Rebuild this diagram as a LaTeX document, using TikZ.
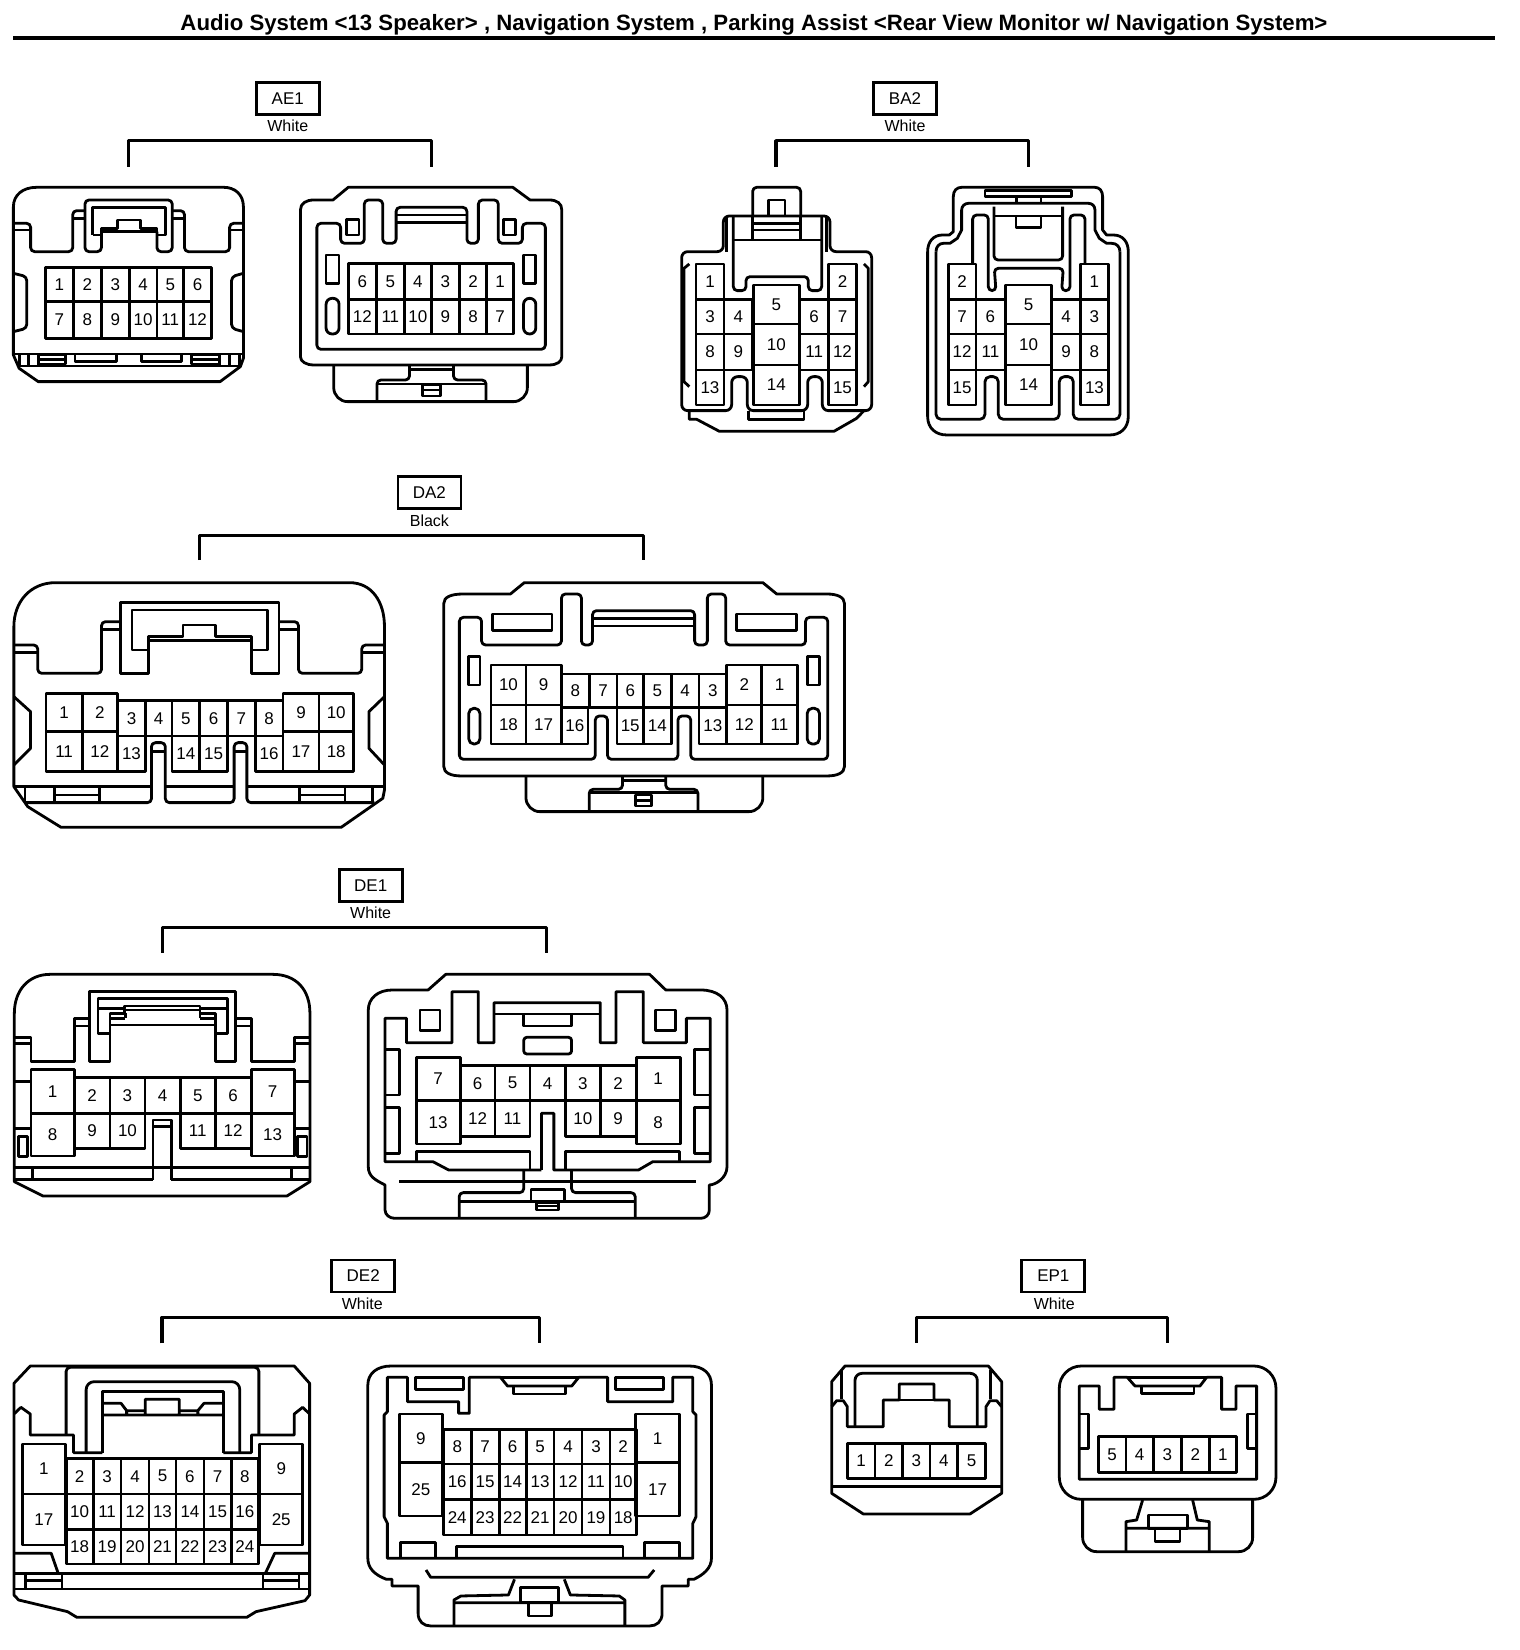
\documentclass[tikz,border=0pt]{standalone}
\usepackage{fontspec}
\setmainfont{Liberation Sans}
\newcount\pinc
\newcommand{\pin}[5]{%
  \global\advance\pinc by 1
  \draw[ln] (#1,#2) rectangle (#3,#4);
  \node[num] (pin\the\pinc) at ({(#1+#3)/2},{(#2+#4)/2}) {#5};}
\newcommand{\pinrow}[3]{\foreach \a/\b/\t in {#3}{\pin{\a}{#1}{\b}{#2}{\t}}}
\tikzset{
  ln/.style={draw=black,line width=2.8pt,line join=round},
  rc/.style={rounded corners=4pt},
  rcb/.style={rounded corners=14pt},
  num/.style={font=\fontsize{17}{17}\selectfont,inner sep=0pt},
  tagbox/.style={draw=black,line width=2.8pt,fill=white,font=\fontsize{17}{17}\selectfont,inner sep=0pt},
  colr/.style={font=\fontsize{16}{16}\selectfont,inner sep=0pt},
  brk/.style={draw=black,line width=3.2pt,line join=round}
}
\begin{document}
\begin{tikzpicture}[x=1pt,y=-1pt]
\useasboundingbox[fill=white] (0,0) rectangle (1520,1650);
\node[font=\bfseries\fontsize{22.2}{23}\selectfont,inner sep=0pt] (title) at (754,24.5) {Audio System <13 Speaker> , Navigation System , Parking Assist <Rear View Monitor w/ Navigation System>};
\coordinate (ruleL) at (13,38); \coordinate (ruleR) at (1495,38);
\draw[line width=4pt] (ruleL) -- (ruleR);

%% ===== AE1 =====
\begin{scope}[shift={(0,60)},xscale=0.3827,yscale=0.3333]
\node[tagbox,minimum width=63pt,minimum height=32pt] (tagAE) at (752,115) {AE1};
\node[colr] (colAE) at (752,198) {White};
\draw[brk] (335,320) -- (335,242) -- (1128,242) -- (1128,320);
% left
\draw[ln] (35,885) -- (35,440) .. controls (35,405) and (60,382) .. (95,382) -- (585,382) .. controls (615,382) and (636,405) .. (636,440) -- (636,895) -- (628,920) -- (575,965) -- (100,965) -- (50,925) -- cycle;
\draw[ln] (35,882) -- (636,882) (50,918) -- (628,918);
\draw[ln] (50,882)--(50,918) (75,882)--(75,918) (100,882)--(100,918) (575,882)--(575,918) (600,882)--(600,918) (625,882)--(625,918);
\draw[ln] (100,885) rectangle (172,912) (100,898)--(172,898) (500,885) rectangle (572,912) (500,898)--(572,898);
\draw[ln] (196,882)--(196,905)--(304,905)--(304,882) (370,882)--(370,905)--(475,905)--(475,882);
\draw[ln,rc] (35,490)--(80,490)--(80,575)--(190,575)--(190,452)--(222,452);
\draw[ln] (35,510)--(80,510) (190,475)--(222,475) (450,475)--(482,475) (600,510)--(636,510);
\draw[ln,rc] (265,515)--(265,575)--(222,575)--(222,420)--(450,420)--(450,575)--(410,575)--(410,515);
\draw[ln] (242,525)--(242,442)--(432,442)--(432,525)--(410,525) (242,525)--(265,525);
\draw[ln] (265,525)--(265,505)--(308,505)--(308,480)--(368,480)--(368,505)--(410,505)--(410,525) (265,515)--(410,515);
\draw[ln,rc] (450,452)--(482,452)--(482,575)--(600,575)--(600,490)--(636,490);
\draw[ln,rc] (35,640)--(70,650)--(70,805)--(35,815) (636,640)--(605,650)--(605,805)--(636,815);
\pinrow{622}{725}{118/192/1,192/265/2,265/338/3,338/410/4,410/480/5,480/552/6}
\pinrow{725}{835}{118/192/7,192/265/8,265/338/9,338/410/10,410/480/11,480/552/12}
% right
\draw[ln] (785,890) -- (785,450) .. controls (785,430) and (800,420) .. (820,420) -- (870,420) -- (910,382) -- (1340,382) -- (1385,420) -- (1435,420) .. controls (1455,420) and (1468,430) .. (1468,450) -- (1468,890) .. controls (1468,905) and (1455,915) .. (1435,915) -- (820,915) .. controls (800,915) and (785,905) .. (785,890) -- cycle;
\draw[ln,rc] (828,868)--(828,490)--(890,490)--(890,550)--(952,550)--(952,420)--(1000,420)--(1000,550)--(1035,550)--(1035,442)--(1220,442)--(1220,550)--(1250,550)--(1250,420)--(1302,420)--(1302,550)--(1365,550)--(1365,490)--(1425,490)--(1425,868)--cycle;
\draw[ln] (1035,465)--(1220,465) (1035,488)--(1220,488);
\draw[ln] (905,478) rectangle (938,525) (1315,478) rectangle (1348,525) (852,585) rectangle (886,670) (1368,585) rectangle (1400,670);
\draw[ln,rounded corners=6pt] (852,715) rectangle (886,822) (1368,715) rectangle (1400,822);
\pinrow{610}{718}{910/984/6,984/1056/5,1056/1128/4,1128/1200/3,1200/1272/2,1272/1342/1}
\pinrow{718}{822}{910/984/12,984/1056/11,1056/1128/10,1128/1200/9,1200/1272/8,1272/1342/7}
\draw[ln,rcb] (872,918)--(872,1025)--(1378,1025)--(1378,918);
\draw[ln,rc] (1070,918)--(1070,960)--(985,960)--(985,1025);
\draw[ln,rc] (1185,918)--(1185,960)--(1270,960)--(1270,1025);
\draw[ln] (1070,928)--(1185,928) (985,972)--(1270,972) (1105,975) rectangle (1150,1008) (1105,990)--(1150,990);
\end{scope}

%% ===== BA2 =====
\begin{scope}[shift={(660,60)},xscale=0.3333,yscale=0.3333]
\node[tagbox,minimum width=63pt,minimum height=32pt] (tagBA) at (735,115) {BA2};
\node[colr] (colBA) at (735,198) {White};
\draw[brk] (348,320) -- (348,242) -- (1105,242) -- (1105,320);
% left
\draw[ln,rc] (278,468)--(278,382)--(422,382)--(422,468);
\draw[ln] (325,465)--(325,420)--(375,420)--(375,465);
\draw[ln,rounded corners=6pt] (190,468)--(190,575)--(65,575)--(65,1052)--(215,1052)--(215,950)--(262,950)--(262,1052)--(443,1052)--(443,950)--(487,950)--(487,1052)--(635,1052)--(635,575)--(510,575)--(510,468)--cycle;
\draw[ln] (88,1052)--(88,1078)--(110,1078)--(178,1114)--(522,1114)--(590,1075)--(612,1052);
\draw[ln] (265,1052)--(265,1078)--(432,1078)--(432,1052);
\draw[ln,rc] (220,468)--(220,692)--(258,692)--(258,650)--(445,650)--(445,692)--(485,692)--(485,468);
\draw[ln] (220,540)--(485,540) (278,490)--(422,490) (278,510)--(422,510) (278,468)--(278,540) (422,468)--(422,540);
\draw[ln] (200,470)--(200,575) (500,470)--(500,575);
\draw[ln] (88,612)--(72,625)--(72,965)--(88,980) (612,612)--(625,625)--(625,965)--(612,980);
\pinrow{612}{718}{108/192/1,505/590/2}
\pinrow{718}{822}{108/192/3,192/278/4,420/505/6,505/590/7}
\pinrow{822}{930}{108/192/8,192/278/9,420/505/11,505/590/12}
\pinrow{930}{1035}{108/192/13,505/590/15}
\pinrow{675}{792}{280/418/5}
\pinrow{792}{915}{280/418/10}
\pinrow{915}{1035}{280/418/14}
% right
\draw[ln] (880,515) -- (880,410) .. controls (880,392) and (890,382) .. (905,382) -- (1305,382) .. controls (1318,382) and (1328,392) .. (1328,410) -- (1328,510) -- (1340,525) -- (1360,525) .. controls (1388,525) and (1405,545) .. (1405,575) -- (1405,1070) .. controls (1405,1105) and (1380,1125) .. (1350,1125) -- (860,1125) .. controls (828,1125) and (803,1105) .. (803,1070) -- (803,575) .. controls (803,545) and (820,525) .. (848,525) -- (868,525) -- cycle;
\draw[ln] (828,575) .. controls (828,560) and (838,550) .. (850,550) -- (870,550) -- (892,535) -- (905,510) -- (905,450) .. controls (905,438) and (915,430) .. (925,430) -- (1285,430) .. controls (1297,430) and (1305,438) .. (1305,450) -- (1305,510) -- (1318,535) -- (1340,550) -- (1355,550) .. controls (1370,550) and (1380,560) .. (1380,575);
\draw[ln,rounded corners=5pt] (1380,575)--(1380,1078)--(1240,1078)--(1240,950)--(1198,950)--(1198,1078)--(1015,1078)--(1015,950)--(975,950)--(975,1078)--(828,1078)--(828,575);
\draw[ln] (975,392) rectangle (1235,410) (1070,410)--(1070,430) (1143,410)--(1143,430);
\draw[ln,rc] (1002,440)--(1002,600)--(1208,600)--(1208,440);
\draw[ln] (1002,468)--(1208,468) (1068,468)--(1068,502)--(1143,502)--(1143,468);
\draw[ln,rc] (938,612)--(938,465)--(985,465)--(985,692)--(1008,692)--(1003,625)--(1210,625)--(1205,692)--(1230,692)--(1230,465)--(1275,465)--(1275,612);
\pinrow{612}{718}{865/948/2,1262/1345/1}
\pinrow{718}{822}{865/948/7,948/1035/6,1175/1262/4,1262/1345/3}
\pinrow{822}{930}{865/948/12,948/1035/11,1175/1262/9,1262/1345/8}
\pinrow{930}{1035}{865/948/15,1262/1345/13}
\pinrow{675}{792}{1037/1175/5}
\pinrow{792}{915}{1037/1175/10}
\pinrow{915}{1035}{1037/1175/14}
\end{scope}

%% ===== DA2 =====
\begin{scope}[shift={(0,470)},xscale=0.5548,yscale=0.3333]
\node[tagbox,minimum width=63pt,minimum height=32pt] (tagDA) at (774,68) {DA2};
\node[colr] (colDA) at (774,152) {Black};
\draw[brk] (360,270) -- (360,197) -- (1160,197) -- (1160,270);
% left
\draw[ln] (25,950)--(25,470) .. controls (25,395) and (55,338) .. (100,338) -- (630,338) .. controls (670,338) and (693,395) .. (693,470) -- (693,960) -- (690,985) -- (615,1072) -- (110,1072) -- (50,1010) -- cycle;
\draw[ln] (25,950)--(273,950) (298,950)--(422,950) (445,950)--(693,950);
\draw[ln,rc] (45,998)--(273,998)--(273,818)--(298,818)--(298,998)--(422,998)--(422,818)--(445,818)--(445,998)--(675,998);
\draw[ln] (273,845)--(298,845) (422,845)--(445,845);
\draw[ln] (98,950)--(98,998) (180,950)--(180,998) (98,975)--(180,975) (540,950)--(540,998) (622,950)--(622,998) (540,975)--(622,975) (45,950)--(45,998) (672,950)--(672,998);
\draw[ln,rc] (25,525)--(68,525)--(68,610)--(183,610)--(183,455)--(217,455);
\draw[ln] (25,548)--(68,548) (183,478)--(217,478) (503,478)--(538,478) (652,548)--(693,548);
\draw[ln] (217,398)--(503,398)--(503,610)--(453,610)--(453,500)--(388,500)--(388,465)--(330,465)--(330,500)--(268,500)--(268,610)--(217,610)--cycle;
\draw[ln] (453,540)--(482,540)--(482,420)--(238,420)--(238,540)--(268,540) (268,512)--(453,512);
\draw[ln,rc] (503,455)--(538,455)--(538,610)--(652,610)--(652,525)--(693,525);
\draw[ln] (25,680)--(55,725)--(55,835)--(25,885) (693,680)--(665,725)--(665,835)--(693,885);
\pinrow{670}{785}{83/148/1,148/212/2,510/575/9,575/637/10}
\pinrow{785}{905}{83/148/11,148/212/12,510/575/17,575/637/18}
\pinrow{692}{798}{212/262/3,262/310/4,310/360/5,360/410/6,410/460/7,460/510/8}
\pinrow{798}{905}{212/262/13,310/360/14,360/410/15,460/510/16}
% right
\draw[ln] (800,890)--(800,400) .. controls (800,382) and (812,372) .. (835,372) -- (920,372) -- (945,338) -- (1375,338) -- (1400,372) -- (1490,372) .. controls (1510,372) and (1522,382) .. (1522,400) -- (1522,890) .. controls (1522,908) and (1510,918) .. (1490,918) -- (832,918) .. controls (812,918) and (800,908) .. (800,890) -- cycle;
\draw[ln,rc] (828,868)--(828,442)--(868,442)--(868,525)--(1012,525)--(1012,372)--(1048,372)--(1048,525)--(1068,525)--(1068,422)--(1252,422)--(1252,525)--(1275,525)--(1275,372)--(1308,372)--(1308,525)--(1452,525)--(1452,442)--(1492,442)--(1492,868)--(1245,868)--(1245,738)--(1222,738)--(1222,868)--(1095,868)--(1095,738)--(1073,738)--(1073,868)--cycle;
\draw[ln] (1068,445)--(1252,445) (1068,468)--(1252,468);
\draw[ln] (887,432) rectangle (995,482) (1327,432) rectangle (1435,482) (845,560) rectangle (865,645) (1455,560) rectangle (1477,645);
\draw[ln,rounded corners=5pt] (845,715) rectangle (865,822) (1455,715) rectangle (1477,822);
\pinrow{585}{705}{885/948/10,948/1012/9,1310/1373/2,1373/1437/1}
\pinrow{705}{822}{885/948/18,948/1012/17,1310/1373/12,1373/1437/11}
\pinrow{612}{712}{1012/1062/8,1062/1112/7,1112/1160/6,1160/1210/5,1210/1260/4,1260/1310/3}
\pinrow{712}{822}{1012/1060/16,1112/1160/15,1160/1210/14,1260/1310/13}
\draw[ln,rcb] (948,920)--(948,1025)--(1375,1025)--(1375,920);
\draw[ln,rc] (1122,920)--(1122,958)--(1062,958)--(1062,1025);
\draw[ln,rc] (1200,920)--(1200,958)--(1258,958)--(1258,1025);
\draw[ln] (1122,932)--(1200,932) (1062,968)--(1258,968) (1145,975) rectangle (1175,1008) (1145,992)--(1175,992);
\end{scope}

%% ===== DE1 =====
\begin{scope}[shift={(0,870)},xscale=0.4783,yscale=0.3333]
\node[tagbox,minimum width=63pt,minimum height=32pt] (tagDEa) at (775,47) {DE1};
\node[colr] (colDEa) at (775,128) {White};
\draw[brk] (340,248) -- (340,172) -- (1143,172) -- (1143,248);
% left
\draw[ln] (30,935)--(30,430) .. controls (30,360) and (60,313) .. (105,313) -- (570,313) .. controls (620,313) and (648,360) .. (648,430) -- (648,935) -- (600,978) -- (90,978) -- cycle;
\draw[ln] (30,892)--(648,892) (30,928)--(320,928) (358,928)--(648,928) (68,892)--(68,928) (610,892)--(610,928);
\draw[ln] (320,930)--(320,750)--(358,750)--(358,930) (320,770)--(358,770);
\draw[ln] (187,365)--(492,365)--(492,575)--(450,575)--(450,490)--(475,490)--(475,385)--(205,385)--(205,490)--(230,490)--(230,575)--(187,575)--cycle;
\draw[ln] (205,415)--(260,415)--(260,408)--(418,408)--(418,415)--(475,415) (230,490)--(230,430)--(260,430)--(260,420)--(418,420)--(418,430)--(450,430)--(450,490) (230,445)--(262,445) (418,445)--(450,445) (262,445)--(262,430) (418,445)--(418,430) (230,465)--(450,465);
\draw[ln] (30,502)--(65,502)--(65,575)--(155,575)--(155,445)--(187,445) (155,468)--(187,468) (30,520)--(65,520);
\draw[ln] (492,445)--(525,445)--(525,575)--(615,575)--(615,502)--(648,502) (615,520)--(648,520) (492,468)--(525,468);
\draw[ln] (30,635)--(65,635) (30,775)--(65,775) (615,635)--(648,635) (615,775)--(648,775) (38,800) rectangle (58,860) (622,800) rectangle (642,860);
\pinrow{598}{730}{65/155/1,525/615/7}
\pinrow{730}{858}{65/155/8,525/615/13}
\pinrow{622}{730}{155/230/2,230/303/3,303/377/4,377/450/5,450/525/6}
\pinrow{730}{835}{155/230/9,230/303/10,377/450/11,450/525/12}
% right
\draw[ln] (805,945) .. controls (785,930) and (770,920) .. (770,890) -- (770,420) .. controls (770,385) and (790,360) .. (820,360) -- (895,360) -- (932,313) -- (1358,313) -- (1392,360) -- (1465,360) .. controls (1500,360) and (1520,385) .. (1520,420) -- (1520,890) .. controls (1520,925) and (1495,945) .. (1483,945) -- (1483,1020) .. controls (1483,1035) and (1475,1045) .. (1465,1045) -- (825,1045) .. controls (815,1045) and (805,1035) .. (805,1020) -- cycle;
\draw[ln] (1132,900)--(938,900)--(905,875)--(805,875)--(805,445)--(850,445)--(850,518)--(945,518)--(945,365)--(1000,365)--(1000,518)--(1033,518)--(1033,398)--(1255,398)--(1255,518)--(1288,518)--(1288,365)--(1345,365)--(1345,518)--(1435,518)--(1435,445)--(1485,445)--(1485,875)--(1365,875)--(1335,900)--(1158,900)--(1158,730)--(1132,730)--(1132,900);
\draw[ln] (1420,875)--(1420,845)--(1182,845)--(1182,900) (870,875)--(870,845)--(1108,845)--(1108,900);
\draw[ln] (1033,432)--(1255,432) (1095,435)--(1095,468)--(1195,468)--(1195,435) (878,420) rectangle (920,482) (1370,420) rectangle (1412,482);
\draw[ln,rounded corners=3pt] (1095,502) rectangle (1195,552);
\draw[ln] (805,538)--(835,538)--(835,675)--(805,675) (805,712)--(835,712)--(835,850)--(805,850) (1485,538)--(1452,538)--(1452,675)--(1485,675) (1485,712)--(1452,712)--(1452,850)--(1485,850);
\draw[ln] (835,935)--(1455,935);
\draw[ln,rc] (1095,900)--(1095,968)--(960,968)--(960,1045) (1195,900)--(1195,968)--(1328,968)--(1328,1045);
\draw[ln] (960,995)--(1328,995) (1110,958) rectangle (1180,995) (1122,998) rectangle (1168,1020) (1122,1008)--(1168,1008);
\pinrow{562}{692}{870/962/7,1330/1422/1}
\pinrow{692}{822}{870/962/13,1330/1422/8}
\pinrow{587}{692}{962/1035/6,1035/1108/5,1108/1182/4,1182/1255/3,1255/1330/2}
\pinrow{692}{800}{962/1035/12,1035/1108/11,1182/1255/10,1255/1330/9}
\end{scope}

%% ===== DE2 =====
\begin{scope}[shift={(0,1260)},xscale=0.4656,yscale=0.3333]
\node[tagbox,minimum width=63pt,minimum height=32pt] (tagDEb) at (780,48) {DE2};
\node[colr] (colDEb) at (778,130) {White};
\draw[brk] (348,250) -- (348,172) -- (1158,172) -- (1158,250);
% left
\draw[ln] (30,1005)--(30,370)--(65,318)--(632,318)--(665,370)--(665,1005)--(655,1022)--(550,1055)--(530,1072)--(165,1072)--(145,1055)--(40,1020)--cycle;
\draw[ln] (30,987)--(665,987) (30,940)--(665,940) (55,940)--(55,987) (133,940)--(133,987) (55,962)--(133,962) (565,940)--(565,987) (642,940)--(642,987) (565,962)--(642,962);
\draw[ln] (30,880)--(110,880)--(125,940) (665,880)--(590,880)--(570,940);
\draw[ln,rc] (142,525)--(142,322)--(556,322)--(556,525);
\draw[ln] (30,462)--(45,442)--(65,462)--(65,525)--(158,525)--(158,578)--(220,578) (665,462)--(650,442)--(632,462)--(632,525)--(540,525)--(540,578)--(480,578);
\draw[ln,rounded corners=8pt] (185,578)--(185,365)--(515,365)--(515,578);
\draw[ln] (220,578)--(220,395)--(480,395)--(480,578);
\draw[ln] (220,430)--(260,430)--(272,452)--(312,452)--(312,418)--(385,418)--(385,452)--(425,452)--(438,430)--(480,430) (220,465)--(312,465) (385,465)--(480,465) (312,452)--(312,465)--(385,465)--(385,452) (272,452)--(272,465) (425,452)--(425,465);
\pinrow{552}{702}{48/140/1,558/650/9}
\pinrow{702}{855}{48/140/17,558/650/25}
\pinrow{595}{702}{142/200/2,200/260/3,260/320/4,320/378/5,378/438/6,438/497/7,497/555/8}
\pinrow{702}{808}{142/200/10,200/260/11,260/320/12,320/378/13,378/438/14,438/497/15,497/555/16}
\pinrow{808}{912}{142/200/18,200/260/19,260/320/20,320/378/21,378/438/22,438/497/23,497/555/24}
% right
\draw[ln] (842,958)--(830,958) .. controls (805,945) and (790,925) .. (790,895) -- (790,375) .. controls (790,340) and (810,318) .. (840,318) -- (1480,318) .. controls (1510,318) and (1528,340) .. (1528,375) -- (1528,895) .. controls (1528,925) and (1510,945) .. (1490,958) -- (1478,958) -- (1478,978) -- (1422,978) -- (1422,1060) .. controls (1422,1085) and (1410,1098) .. (1395,1098) -- (925,1098) .. controls (910,1098) and (898,1085) .. (898,1060) -- (898,978) -- (842,978) -- cycle;
\draw[ln] (832,352)--(875,352)--(875,425)--(985,425)--(985,460)--(1008,460)--(1008,352)--(1075,352)--(1090,378)--(1228,378)--(1243,352)--(1305,352)--(1305,425)--(1445,425)--(1445,352)--(1488,352)--(1488,455)--(1495,465)--(1495,770)--(1488,790)--(1488,895)--(832,895)--(832,790)--(825,770)--(825,465)--(832,455)--cycle;
\draw[ln] (893,352) rectangle (995,388) (1322,352) rectangle (1425,388) (1102,378)--(1102,402)--(1215,402)--(1215,378) (1075,352)--(1243,352);
\draw[ln] (860,895)--(860,848)--(935,848)--(935,895) (1385,895)--(1385,848)--(1460,848)--(1460,895) (980,895)--(980,860)--(1338,860)--(1338,895);
\draw[ln] (915,930)--(925,952)--(1392,952)--(1405,930);
\draw[ln] (975,1095)--(975,1020)--(990,1008)--(1092,1005)--(1105,958) (1212,958)--(1225,1005)--(1330,1008)--(1342,1020)--(1342,1095) (975,1028)--(1342,1028);
\draw[ln] (1118,982) rectangle (1200,1028) (1135,1028)--(1135,1068)--(1185,1068)--(1185,1028);
\pinrow{462}{608}{858/950/9,1365/1460/1}
\pinrow{608}{768}{858/950/25,1365/1460/17}
\pinrow{508}{612}{952/1012/8,1012/1072/7,1072/1130/6,1130/1190/5,1190/1250/4,1250/1310/3,1310/1367/2}
\pinrow{612}{718}{952/1012/16,1012/1072/15,1072/1130/14,1130/1190/13,1190/1250/12,1250/1310/11,1310/1367/10}
\pinrow{718}{825}{952/1012/24,1012/1072/23,1072/1130/22,1130/1190/21,1190/1250/20,1250/1310/19,1310/1367/18}
\end{scope}

%% ===== EP1 =====
\begin{scope}[shift={(820,1260)},xscale=0.3333,yscale=0.3333]
\node[tagbox,minimum width=63pt,minimum height=32pt] (tagEP) at (700,48) {EP1};
\node[colr] (colEP) at (703,130) {White};
\draw[brk] (290,248) -- (290,172) -- (1043,172) -- (1043,248);
% left
\draw[ln] (35,365)--(75,318)--(505,318)--(545,365)--(545,700)--(450,762)--(130,762)--(35,700)--cycle;
\draw[ln] (35,680)--(545,680) (65,330)--(65,418) (512,330)--(512,418);
\draw[ln] (35,440)--(50,422)--(70,422)--(82,440)--(82,500)--(190,500)--(190,420)--(238,420)--(238,372)--(342,372)--(342,420)--(388,420)--(388,500)--(498,500)--(498,440)--(510,422)--(530,422)--(545,440);
\draw[ln,rounded corners=7pt] (105,500)--(105,340)--(472,340)--(472,500);
\draw[ln] (238,420)--(342,420);
\pinrow{550}{655}{82/165/1,165/248/2,248/330/3,330/413/4,413/497/5}
% right
\draw[ln,rounded corners=22pt] (718,318) rectangle (1368,718);
\draw[ln] (778,658)--(778,378)--(838,378)--(838,448)--(882,448)--(882,352)--(922,352)--(945,378)--(1140,378)--(1160,352)--(1205,352)--(1205,448)--(1248,448)--(1248,378)--(1310,378)--(1310,658)--cycle;
\draw[ln] (922,352)--(1160,352) (965,378)--(965,400)--(1122,400)--(1122,378);
\draw[ln] (778,462)--(805,462)--(805,565)--(778,565) (1310,462)--(1282,462)--(1282,565)--(1310,565);
\pinrow{530}{638}{835/918/5,918/1000/4,1000/1085/3,1085/1168/2,1168/1250/1}
\draw[ln,rcb] (788,720)--(788,875)--(1298,875)--(1298,720);
\draw[ln] (968,720)--(950,780)--(918,785)--(918,875) (1118,720)--(1132,780)--(1168,785)--(1168,875) (918,805)--(1168,805);
\draw[ln] (985,765) rectangle (1102,805) (1005,805)--(1005,845)--(1080,845)--(1080,805);
\end{scope}
\end{tikzpicture}
\end{document}
